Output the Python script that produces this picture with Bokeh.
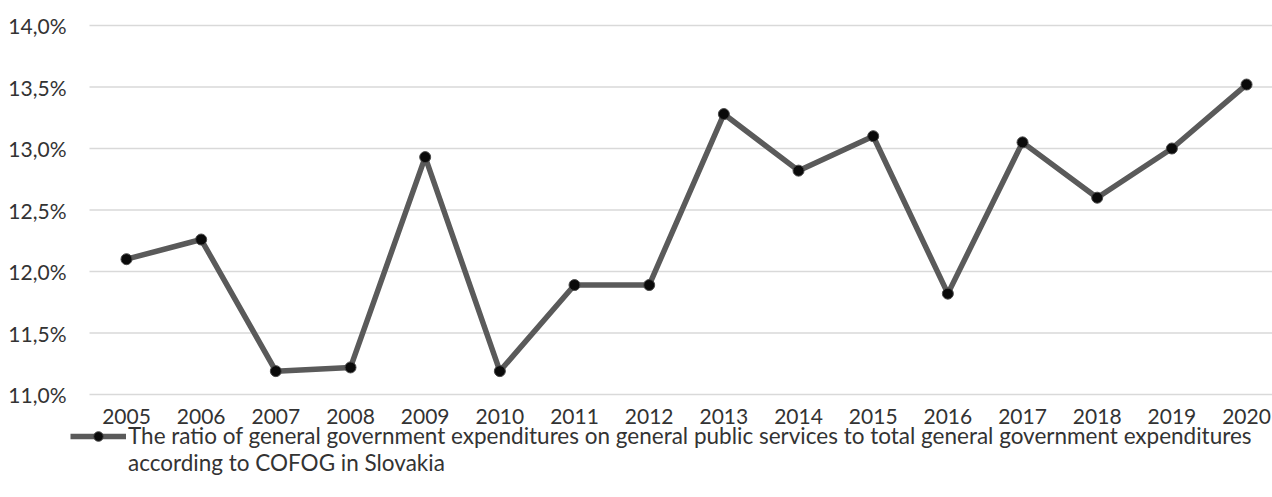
from bokeh.plotting import figure
from bokeh.models import Range1d, Legend, LegendItem, ColumnDataSource
from bokeh.core.properties import value
from bokeh.embed import file_html
from bokeh.resources import INLINE

years = [2005, 2006, 2007, 2008, 2009, 2010, 2011, 2012, 2013, 2014, 2015, 2016, 2017, 2018, 2019, 2020]
ratio = [12.10, 12.26, 11.19, 11.22, 12.93, 11.19, 11.89, 11.89, 13.28, 12.82, 13.10, 11.82, 13.05, 12.60, 13.00, 13.52]
year_labels = [str(y) for y in years]
y_ticks = [11.0, 11.5, 12.0, 12.5, 13.0, 13.5, 14.0]
y_tick_labels = [("%.1f" % t).replace(".", ",") + "%" for t in y_ticks]
series_name_1 = "The ratio of general government expenditures on general public services to total general government expenditures"
series_name_2 = "according to COFOG in Slovakia"

FONT = "Lato"
W, H = 1272, 497
# pixel layout of the reference: first category centre, category step, gridline 14% at y=25, 123 px per 1 %
X0_PX, STEP_PX = 126.0, 74.67
Y_TOP_PX, PX_PER_UNIT, Y_TOP_VAL = 25.0, 123.0, 14.0

def x_at(px):
    return years[0] + (px - X0_PX) / STEP_PX

def y_at(py):
    return Y_TOP_VAL - (py - Y_TOP_PX) / PX_PER_UNIT

src = ColumnDataSource(dict(year=years, ratio=ratio, label=year_labels,
                            label_y=[y_at(416)] * len(years)))
grid_src = ColumnDataSource(dict(tick=y_ticks, label=y_tick_labels,
                                 x0=[x_at(89)] * len(y_ticks), x1=[x_at(W)] * len(y_ticks),
                                 lx=[x_at(66)] * len(y_ticks)))

p = figure(width=W, height=H, output_backend="svg", toolbar_location=None,
           x_range=Range1d(x_at(0), x_at(W)), y_range=Range1d(y_at(H), y_at(0)),
           min_border=0)
p.outline_line_color = None
p.background_fill_color = "white"
p.border_fill_color = "white"
p.xaxis.visible = False
p.yaxis.visible = False
p.xgrid.visible = False
p.ygrid.visible = False

# horizontal gridlines at the y ticks
p.segment(x0="x0", x1="x1", y0="tick", y1="tick", source=grid_src,
          line_color="#d9d9d9", line_width=1.6)
# y tick labels
p.text(x="lx", y="tick", text="label", source=grid_src, text_font=value(FONT),
       text_font_size="21px", text_color="#333333", text_align="right",
       text_baseline="middle")
# x category labels
p.text("year", "label_y", text="label", source=src, text_font=value(FONT),
       text_font_size="21px", text_color="#333333", text_align="center",
       text_baseline="middle")

line_r = p.line("year", "ratio", source=src, line_color="#5a5a5a", line_width=5.5)
pts_r = p.scatter("year", "ratio", source=src, size=11, fill_color="#0a0a0a",
                  line_color="#4a4a4a", line_width=1)
blank_r = p.line("year", "ratio", source=src, line_alpha=0)

legend = Legend(items=[LegendItem(label=series_name_1, renderers=[line_r, pts_r]),
                       LegendItem(label=series_name_2, renderers=[blank_r])],
                location=(70, 21), orientation="vertical",
                label_text_font=FONT, label_text_font_size="22.5px", label_text_color="#333333",
                glyph_width=56, glyph_height=24, label_height=24, label_standoff=2,
                spacing=0, padding=0, margin=0,
                border_line_color=None, background_fill_alpha=0)
p.add_layout(legend, "center")

open("out.html", "w").write(file_html(p, INLINE))
